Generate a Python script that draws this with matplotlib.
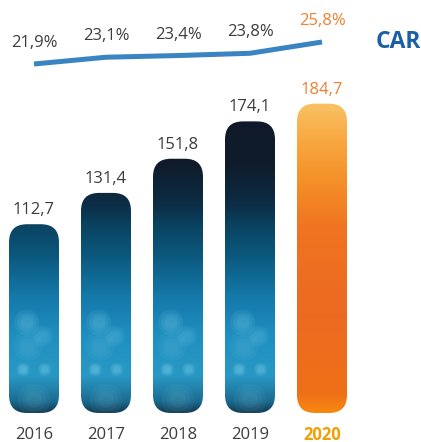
import numpy as np
import matplotlib.pyplot as plt
from matplotlib.patches import FancyBboxPatch
from matplotlib.colors import LinearSegmentedColormap

years = ['2016', '2017', '2018', '2019', '2020']
volume = [112.7, 131.4, 151.8, 174.1, 184.7]
volume_labels = ['112,7', '131,4', '151,8', '174,1', '184,7']
car = [21.9, 23.1, 23.4, 23.8, 25.8]
car_labels = ['21,9%', '23,1%', '23,4%', '23,8%', '25,8%']

plt.rcParams['font.family'] = ['Open Sans', 'DejaVu Sans']

W, H = 421, 442
fig = plt.figure(figsize=(W / 100, H / 100), dpi=100)
ax = fig.add_axes([0, 0, 1, 1])
ax.axis('off')

# pixel scale: 72 px per year, 1.675 px per unit of volume, baseline 29 px above bottom
px_x, px_y = 72.0, 1.675
ax.set_xlim(-34 / px_x, (W - 34) / px_x)
ax.set_ylim(-(H - 413) / px_y, 413 / px_y)

grey = '#3c3c3c'
orange_txt = '#f08030'
bar_w = 50 / px_x
rad = 18 / px_x
aspect = px_x / px_y

# blue texture (anchored to the baseline), orange texture for the last year
blue_cmap = LinearSegmentedColormap.from_list('blue', [
    (0.00, '#123c55'), (0.04, '#1c6e94'), (0.12, '#2898c4'), (0.25, '#1f8fc0'),
    (0.38, '#1478a8'), (0.50, '#0c5a80'), (0.60, '#0a4462'), (0.68, '#0c2c44'),
    (0.80, '#0f1c2c'), (1.00, '#111828')])
orange_cmap = LinearSegmentedColormap.from_list('orange', [
    (0.00, '#f78810'), (0.06, '#f07018'), (0.35, '#ec6a22'), (0.60, '#f07420'),
    (0.75, '#f59028'), (0.88, '#f8a840'), (1.00, '#f9c264')])
grad = np.linspace(0, 1, 256).reshape(-1, 1)
top_max = max(volume)

# soft light spots near the bottom of the blue bars: (dx, y, radius, alpha)
spots = [(-0.1, 54, 0.17, 0.10), (0.12, 46, 0.14, 0.08), (-0.08, 40, 0.2, 0.06),
         (-0.15, 26, 0.09, 0.16), (0.15, 26, 0.09, 0.14), (0.0, 8, 0.22, 0.06)]

for i, v in enumerate(volume):
    x0 = i - bar_w / 2
    box = FancyBboxPatch((x0, 0), bar_w, v,
                         boxstyle=f'round,pad=0,rounding_size={rad}',
                         mutation_aspect=aspect, fc='none', ec='none')
    ax.add_patch(box)
    if i == len(volume) - 1:
        im = ax.imshow(grad, cmap=orange_cmap, origin='lower', aspect='auto',
                       extent=(x0, x0 + bar_w, 0, v), interpolation='bilinear')
    else:
        im = ax.imshow(grad, cmap=blue_cmap, origin='lower', aspect='auto',
                       extent=(x0, x0 + bar_w, 0, top_max), interpolation='bilinear')
        for cx, cy, r, a in spots:
            for k in (1.0, 0.75, 0.5):
                rr = r * k
                c = FancyBboxPatch((i + cx - rr, cy - rr * aspect), 2 * rr, 2 * rr * aspect,
                                   boxstyle=f'round,pad=0,rounding_size={rr}',
                                   mutation_aspect=aspect, fc='#8fd8f0', ec='none', alpha=a)
                ax.add_patch(c)
                c.set_clip_path(box)
    im.set_clip_path(box)

    last = i == len(volume) - 1
    ax.annotate(volume_labels[i], (i, v), xytext=(0, 10), textcoords='offset points',
                ha='center', va='center', fontsize=12,
                color=orange_txt if last else grey)
    ax.annotate(years[i], (i, 0), xytext=(0, -15.5), textcoords='offset points',
                ha='center', va='center', fontsize=12,
                color='#f29f05' if last else grey,
                fontweight='bold' if last else 'normal')

# CAR line on its own scale
ax2 = fig.add_axes([0, 0, 1, 1], sharex=ax)
ax2.axis('off')
ax2.patch.set_alpha(0)
car_px = (25.8 - 21.9) / (64 - 42)
ax2.set_ylim(21.9 - (H - 64) * car_px, 21.9 + 64 * car_px)
xs = np.arange(len(car))
ax2.plot(xs, car, color='#3a84c2', lw=3.6, solid_capstyle='butt', solid_joinstyle='miter')
for i, c in enumerate(car):
    ax2.annotate(car_labels[i], (i, c), xytext=(0, 15), textcoords='offset points',
                 ha='center', va='center', fontsize=12,
                 color=orange_txt if i == len(car) - 1 else grey)
fig.text(398 / W, 1 - 42 / H, 'CAR', ha='center', va='center', fontsize=16.5,
         fontweight='bold', color='#1c5fa6')

fig.savefig('out.png', dpi=100)
